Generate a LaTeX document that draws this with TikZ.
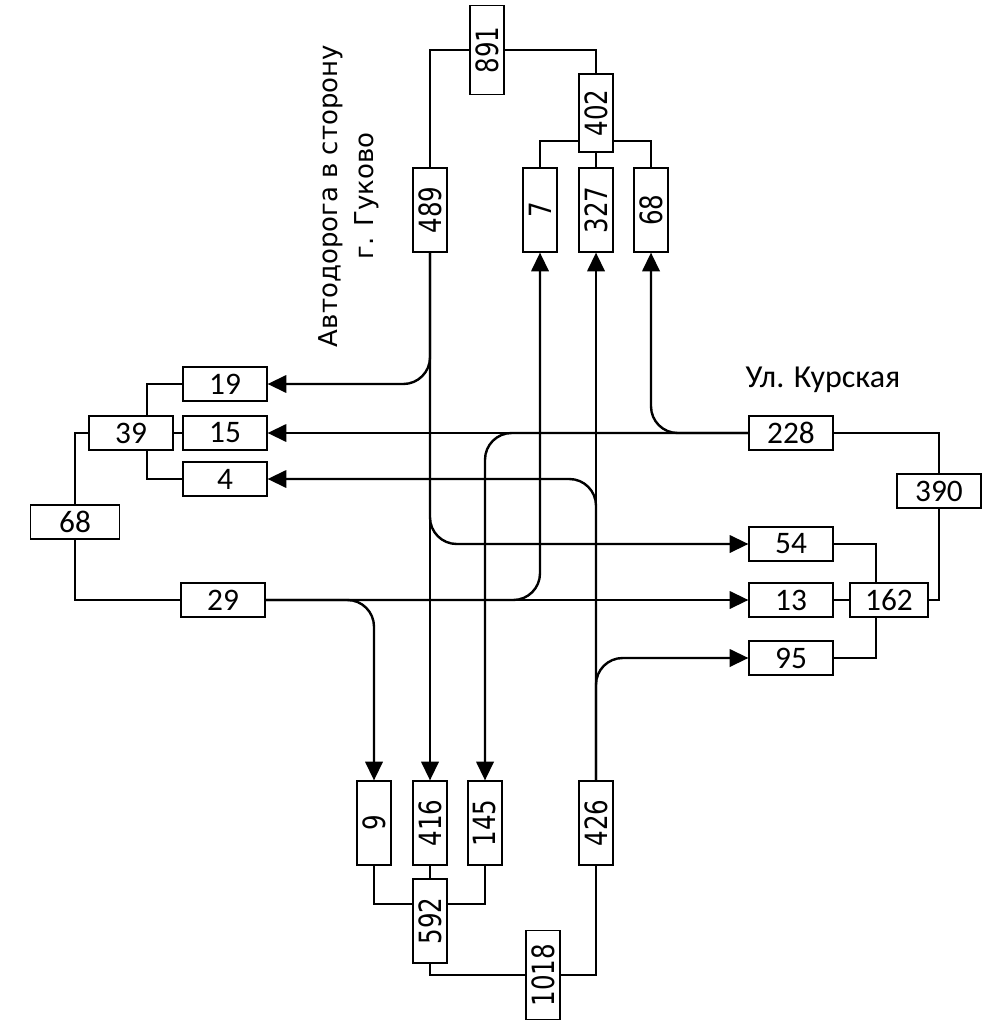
\documentclass[tikz,border=0pt]{standalone}
\usepackage{fontspec}
\setmainfont{Carlito}
\newfontfamily\roadfont{DejaVu Sans}
\newfontfamily\numfont[FakeStretch=0.8]{DejaVu Sans}
\usetikzlibrary{arrows.meta,backgrounds}
\newcommand{\vnum}[1]{\rotatebox{90}{\numfont\fontsize{23}{27}\selectfont #1}}

\begin{document}
\begin{tikzpicture}[
    x=0.75pt, y=-0.75pt,
    font=\fontsize{23.5}{28}\selectfont,
    hbox/.style={draw, line width=0.9pt, fill=white, minimum width=63pt, minimum height=25.5pt, inner sep=0pt},
    vbox/.style={draw, line width=0.9pt, fill=white, minimum width=25.5pt, minimum height=63pt, inner sep=0pt},
    link/.style={line width=1.8pt},
    arrow/.style={link, rounded corners=20pt, -{Triangle[length=14pt,width=13pt]}}
]
    \useasboundingbox (0,0) rectangle (982,1023);

    % north approach
    \node[vbox, minimum height=67pt] (n891) at (487,50) {\vnum{891}};
    \node[vbox, minimum height=58.5pt] (n402) at (596,113) {\vnum{402}};
    \node[vbox] (n489) at (430,210) {\vnum{489}};
    \node[vbox] (n7) at (540,210) {\vnum{7}};
    \node[vbox] (n327) at (596,210) {\vnum{327}};
    \node[vbox] (n68t) at (651,210) {\vnum{68}};
    \coordinate (j402) at (596,141);

    % west approach
    \node[hbox] (n19) at (225,384) {19};
    \node[hbox] (n39) at (131,433) {39};
    \node[hbox] (n15) at (225,433) {15};
    \node[hbox] (n4) at (225,479) {4};
    \node[hbox, minimum width=67pt] (n68l) at (75,522) {68};
    \node[hbox] (n29) at (223,600) {29};
    \coordinate (j39) at (147,433);

    % east approach
    \node[hbox] (n228) at (791,433) {228};
    \node[hbox] (n390) at (939,491) {390};
    \node[hbox] (n54) at (791,544) {54};
    \node[hbox] (n13) at (791,600) {13};
    \node[hbox, minimum width=58.5pt] (n162) at (889,600) {162};
    \node[hbox] (n95) at (791,658) {95};
    \coordinate (j162) at (876,600);

    % south approach
    \node[vbox] (n9) at (374,823) {\vnum{9}};
    \node[vbox] (n416) at (430,823) {\vnum{416}};
    \node[vbox] (n145) at (485,823) {\vnum{145}};
    \node[vbox] (n426) at (596,823) {\vnum{426}};
    \node[vbox] (n592) at (430,921) {\vnum{592}};
    \node[vbox, minimum height=67pt] (n1018) at (543,975) {\vnum{1018}};
    \coordinate (j592) at (430,904);

    \node[font=\fontsize{24}{28}\selectfont] (kurskaya) at (823,380) {Ул. Курская};
    \node[rotate=90, align=center, font=\roadfont\fontsize{19.5}{27}\selectfont] (gukovo) at (349,196) {Автодорога в сторону\\г. Гуково};

    \begin{pgfonlayer}{background}
        % totals
        \draw[link] (n489) |- (n891) -| (n402);
        \draw[link] (n402) -- (n327);
        \draw[link] (n7.north) |- (j402) -| (n68t.north);
        \draw[link] (n19.west) -| (j39);
        \draw[link] (n4.west) -| (j39);
        \draw[link] (n39) -- (n15);
        \draw[link] (n68l) |- (n39);
        \draw[link] (n68l) |- (n29);
        \draw[link] (n54.east) -| (j162);
        \draw[link] (n95.east) -| (j162);
        \draw[link] (n13) -- (n162);
        \draw[link] (n162) -| (n390);
        \draw[link] (n228) -| (n390);
        \draw[link] (n416) -- (n592);
        \draw[link] (n9.south) |- (j592) -| (n145.south);
        \draw[link] (n592) |- (n1018);
        \draw[link] (n1018) -| (n426);

        % turning flows
        \draw[arrow] (n489.south) |- (n19.east);
        \draw[arrow] (n489.south) -- (n416.north);
        \draw[arrow] (n489.south) |- (n54.west);
        \draw[arrow] (n228.west) -- (n15.east);
        \draw[arrow] (n228.west) -| (n68t.south);
        \draw[arrow] (n228.west) -| (n145.north);
        \draw[arrow] (n426.north) -- (n327.south);
        \draw[arrow] (n426.north) |- (n4.east);
        \draw[arrow] (n426.north) |- (n95.west);
        \draw[arrow] (n29.east) -- (n13.west);
        \draw[arrow] (n29.east) -| (n7.south);
        \draw[arrow] (n29.east) -| (n9.north);
    \end{pgfonlayer}
\end{tikzpicture}
\end{document}
